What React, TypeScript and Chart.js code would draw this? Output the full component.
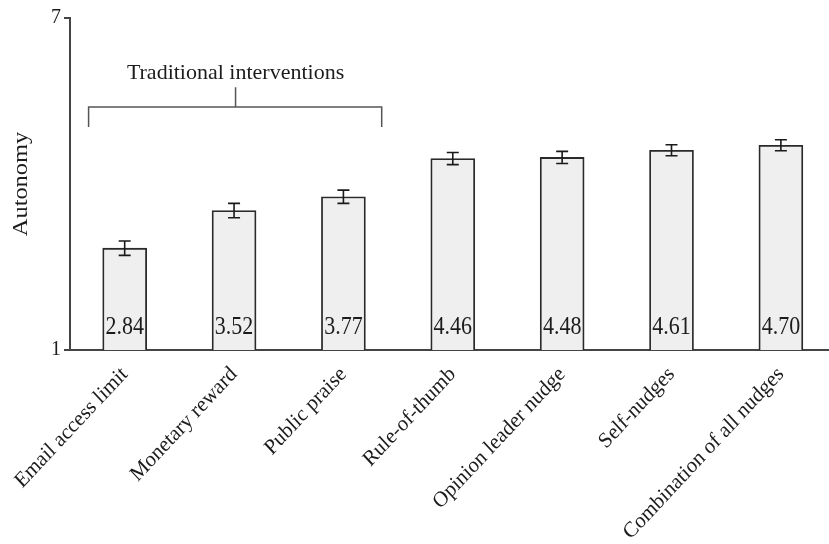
import React, { useEffect, useRef } from "react";
import { Chart, registerables } from "chart.js";

Chart.register(...registerables);

const categories = [
  "Email access limit",
  "Monetary reward",
  "Public praise",
  "Rule-of-thumb",
  "Opinion leader nudge",
  "Self-nudges",
  "Combination of all nudges",
];
const means = [2.84, 3.52, 3.77, 4.46, 4.48, 4.61, 4.7];
const meanLabels = ["2.84", "3.52", "3.77", "4.46", "4.48", "4.61", "4.70"];
const errors = [0.13, 0.13, 0.12, 0.11, 0.11, 0.1, 0.1];
const yTicks = [1, 7];
const yTitle = "Autonomy";
const groupLabel = "Traditional interventions";
const groupStart = 0;
const groupEnd = 2;

const FONT = "'Liberation Serif', 'Times New Roman', serif";
const TEXT = "#1c1c1c";
const AXIS = "#444444";

const overlayPlugin = {
  id: "overlay",
  afterDatasetsDraw(chart: any) {
    const ctx = chart.ctx;
    const xs = chart.scales.x;
    const ys = chart.scales.y;
    const meta = chart.getDatasetMeta(0);
    ctx.save();
    // error bars
    ctx.strokeStyle = "#1a1a1a";
    ctx.lineWidth = 1.6;
    meta.data.forEach((bar: any, i: number) => {
      const x = bar.x;
      const yTop = ys.getPixelForValue(means[i] + errors[i]);
      const yBot = ys.getPixelForValue(means[i] - errors[i]);
      ctx.beginPath();
      ctx.moveTo(x, yTop);
      ctx.lineTo(x, yBot);
      ctx.moveTo(x - 6, yTop);
      ctx.lineTo(x + 6, yTop);
      ctx.moveTo(x - 6, yBot);
      ctx.lineTo(x + 6, yBot);
      ctx.stroke();
    });
    // value labels (slightly tall, as in the reference)
    ctx.fillStyle = TEXT;
    ctx.font = `22px ${FONT}`;
    ctx.textAlign = "center";
    ctx.textBaseline = "alphabetic";
    const yBase = ys.getPixelForValue(ys.min);
    meta.data.forEach((bar: any, i: number) => {
      ctx.save();
      ctx.translate(bar.x, yBase - 16);
      ctx.scale(1, 1.19);
      ctx.fillText(meanLabels[i], 0, 0);
      ctx.restore();
    });
    // category labels, rotated, ending at each category
    ctx.font = `20.5px ${FONT}`;
    ctx.textAlign = "right";
    ctx.textBaseline = "middle";
    categories.forEach((c, i) => {
      ctx.save();
      ctx.translate(xs.getPixelForValue(i), yBase + 21);
      ctx.scale(1, 1.07);
      ctx.rotate(-Math.PI / 4);
      ctx.fillText(c, 0, 0);
      ctx.restore();
    });
    // y axis title
    ctx.save();
    ctx.font = `20px ${FONT}`;
    ctx.textAlign = "center";
    ctx.textBaseline = "middle";
    ctx.translate(22, (ys.top + ys.bottom) / 2);
    ctx.rotate(-Math.PI / 2);
    ctx.scale(1.22, 1);
    ctx.fillText(yTitle, 0, 0);
    ctx.restore();
    // bracket
    const x1 = xs.getPixelForValue(groupStart - 0.33);
    const x2 = xs.getPixelForValue(groupEnd + 0.35);
    const xm = (xs.getPixelForValue(groupStart) + xs.getPixelForValue(groupEnd)) / 2 + 1.5;
    const yh = ys.getPixelForValue(5.39);
    const yl = ys.getPixelForValue(5.03);
    const yt = ys.getPixelForValue(5.75);
    ctx.strokeStyle = "#555555";
    ctx.lineWidth = 1.5;
    ctx.beginPath();
    ctx.moveTo(x1, yl);
    ctx.lineTo(x1, yh);
    ctx.lineTo(x2, yh);
    ctx.lineTo(x2, yl);
    ctx.moveTo(xm, yh);
    ctx.lineTo(xm, yt);
    ctx.stroke();
    ctx.fillStyle = TEXT;
    ctx.font = `22px ${FONT}`;
    ctx.textAlign = "center";
    ctx.textBaseline = "middle";
    ctx.fillText(groupLabel, xm, ys.getPixelForValue(6.0));
    ctx.restore();
  },
};

export default function App() {
  const canvasRef = useRef<HTMLCanvasElement | null>(null);

  useEffect(() => {
    if (!canvasRef.current) return;
    Chart.defaults.font.family = FONT;
    const chart = new Chart(canvasRef.current, {
      type: "bar",
      data: {
        datasets: [
          {
            data: means.map((v, i) => ({ x: i, y: v })),
            backgroundColor: "#efefef",
            borderColor: "#2a2a2a",
            borderWidth: 1.8,
            barThickness: 44,
          },
        ],
      },
      options: {
        animation: false,
        responsive: true,
        maintainAspectRatio: false,
        layout: { padding: { top: 18, right: 0, left: 0, bottom: 0 } },
        plugins: {
          legend: { display: false },
          tooltip: { enabled: false },
        },
        scales: {
          x: {
            type: "linear",
            offset: false,
            min: -0.5,
            max: 6.44,
            afterBuildTicks: (s: any) => {
              s.ticks = categories.map((_, i) => ({ value: i }));
            },
            afterFit: (s: any) => {
              s.height = 194;
            },
            ticks: { display: false },
            grid: { display: false, drawTicks: false },
            border: { display: true, color: AXIS, width: 2 },
          },
          y: {
            type: "linear",
            min: 1,
            max: 7,
            afterBuildTicks: (s: any) => {
              s.ticks = yTicks.map((v) => ({ value: v }));
            },
            afterFit: (s: any) => {
              s.width = 70;
            },
            ticks: {
              padding: 3,
              color: TEXT,
              font: { size: 20, family: FONT },
            },
            grid: {
              drawOnChartArea: false,
              drawTicks: true,
              tickLength: 6,
              color: AXIS,
              lineWidth: 2,
            },
            border: { display: true, color: AXIS, width: 2 },
            title: { display: false },
          },
        },
      },
      plugins: [overlayPlugin],
    });
    return () => chart.destroy();
  }, []);

  return (
    <div style={{ position: "fixed", left: 0, top: 0, width: 829, height: 544, background: "#fff" }}>
      <canvas ref={canvasRef} />
    </div>
  );
}
